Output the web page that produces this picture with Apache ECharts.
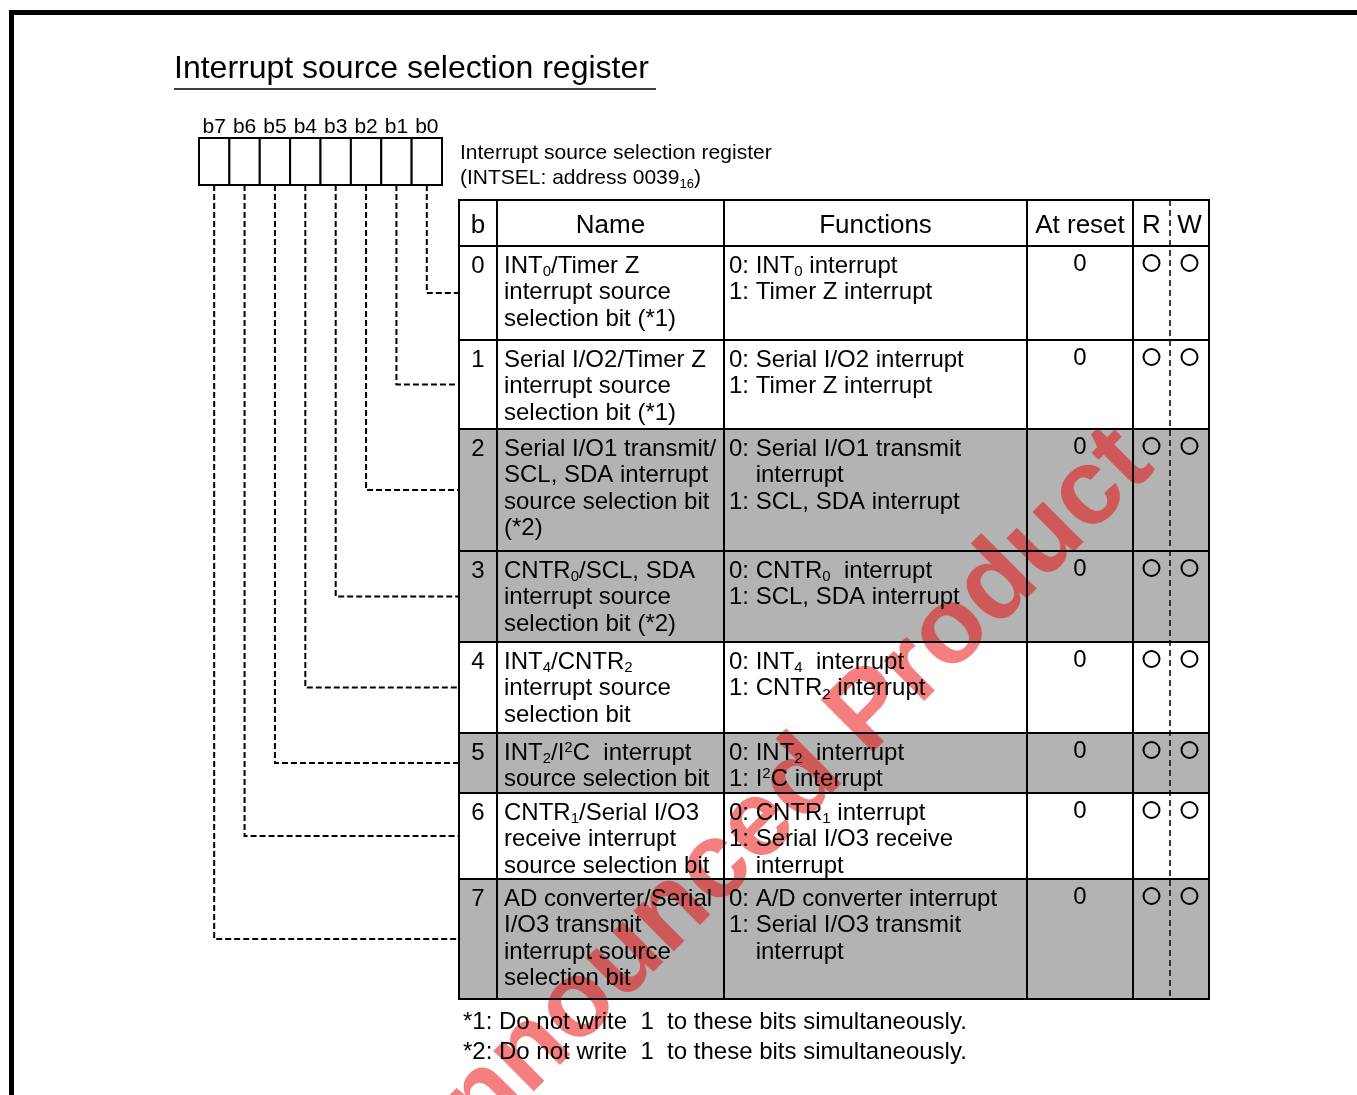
<!DOCTYPE html>
<html><head><meta charset="utf-8">
<script src="https://cdn.jsdelivr.net/npm/echarts@6/dist/echarts.min.js"></script>
<style>html,body{margin:0;padding:0;background:#fff}#c{width:1357px;height:1095px}</style>
</head><body><div id="c"></div>
<script>
// ---------------- DATA ----------------
const title = 'Interrupt source selection register';
const registerLines = 'Interrupt source selection register\n(INTSEL: address 0039{sub|16})';
const bitLabels = ['b7','b6','b5','b4','b3','b2','b1','b0'];
const headers = ['b','Name','Functions','At reset','R','W'];
const bitNumbers = ['0','1','2','3','4','5','6','7'];
const names = [
  'INT{sub|0}/Timer Z\ninterrupt source\nselection bit (*1)',
  'Serial I/O2/Timer Z\ninterrupt source\nselection bit (*1)',
  'Serial I/O1 transmit/\nSCL, SDA interrupt\nsource selection bit\n(*2)',
  'CNTR{sub|0}/SCL, SDA\ninterrupt source\nselection bit (*2)',
  'INT{sub|4}/CNTR{sub|2}\ninterrupt source\nselection bit',
  'INT{sub|2}/I{sup|2}C  interrupt\nsource selection bit',
  'CNTR{sub|1}/Serial I/O3\nreceive interrupt\nsource selection bit',
  'AD converter/Serial\nI/O3 transmit\ninterrupt source\nselection bit'
];
const functions = [
  '0: INT{sub|0} interrupt\n1: Timer Z interrupt',
  '0: Serial I/O2 interrupt\n1: Timer Z interrupt',
  '0: Serial I/O1 transmit\n    interrupt\n1: SCL, SDA interrupt',
  '0: CNTR{sub|0}  interrupt\n1: SCL, SDA interrupt',
  '0: INT{sub|4}  interrupt\n1: CNTR{sub|2} interrupt',
  '0: INT{sub|2}  interrupt\n1: I{sup|2}C interrupt',
  '0: CNTR{sub|1} interrupt\n1: Serial I/O3 receive\n    interrupt',
  '0: A/D converter interrupt\n1: Serial I/O3 transmit\n    interrupt'
];
const resetValues = ['0','0','0','0','0','0','0','0'];
const readable = [true,true,true,true,true,true,true,true];
const writable = [true,true,true,true,true,true,true,true];
const shaded = [false,false,true,true,false,true,false,true];
const notes = [
  '*1: Do not write  1  to these bits simultaneously.',
  '*2: Do not write  1  to these bits simultaneously.'
];
const watermark = 'Unannounced Product';

// ---------------- LAYOUT / STYLE ----------------
const FONT = '"Liberation Sans", Arial, Helvetica, sans-serif';
const GRAY = '#b3b3b3';
const L = {
  W: 1357, H: 1095,
  titleX: 174, titleY: 69, underlineY: 89, underlineX2: 656,
  reg: {x0: 199, x1: 442, y0: 138, y1: 185}, bitLabelY: 127.5,
  regTextX: 460, regTextTop: 140.5,
  colEdges: [459, 497, 724, 1027, 1133, 1209], rwSplit: 1170,
  headerTop: 200, headerTextY: 226,
  rowEdges: [246, 340, 429, 551, 642, 733, 793, 879, 999],
  lineH: 26.5, textDy: 7, padX: 7,
  notesX: 463, notesY: [1022, 1052],
  wm: {x: 726, y: 857, angle: 45, size: 108}
};
const RICH = {
  sub: {fontSize: 15, fontFamily: FONT, fill: '#000', verticalAlign: 'bottom', lineHeight: 20},
  sup: {fontSize: 15, fontFamily: FONT, fill: '#000', verticalAlign: 'top', lineHeight: 18}
};
const RICH_SMALL = {
  sub: {fontSize: 13, fontFamily: FONT, fill: '#000', verticalAlign: 'bottom', lineHeight: 18}
};

function txt(p, s, opt) {
  opt = opt || {};
  return {
    type: 'text', x: p[0], y: p[1],
    style: {
      text: s, fill: '#000', fontSize: opt.size || 24, fontFamily: FONT,
      align: opt.align || 'left', verticalAlign: opt.valign || 'top',
      lineHeight: opt.lineH || L.lineH, rich: opt.rich || RICH
    }
  };
}
function line(a, b, w, dash) {
  return {type: 'line', shape: {x1: a[0], y1: a[1], x2: b[0], y2: b[1]},
    style: {stroke: '#000', lineWidth: w || 2, lineDash: dash || null}};
}

// row backgrounds
function rowFillItem(params, api) {
  const i = api.value(0);
  const C = L.colEdges;
  const a = api.coord([C[0], L.rowEdges[i]]), b = api.coord([C[5], L.rowEdges[i + 1]]);
  return {type: 'rect', shape: {x: a[0], y: a[1], width: b[0] - a[0], height: b[1] - a[1]},
    style: {fill: shaded[i] ? GRAY : '#fff'}};
}

// row texts + R/W marks
function rowTextItem(params, api) {
  const i = api.value(0);
  const C = L.colEdges, top = L.rowEdges[i];
  const P = (x, y) => api.coord([x, y]);
  const ch = [];
  ch.push(txt(P((C[0] + C[1]) / 2, top + L.textDy), bitNumbers[i], {align: 'center'}));
  ch.push(txt(P(C[1] + L.padX, top + L.textDy), names[i]));
  ch.push(txt(P(C[2] + L.padX - 2, top + L.textDy), functions[i]));
  ch.push(txt(P((C[3] + C[4]) / 2, top + L.textDy - 2), resetValues[i], {align: 'center'}));
  const cy = P(0, top + 17)[1];
  if (readable[i]) { const c = P((C[4] + L.rwSplit) / 2, 0)[0];
    ch.push({type: 'circle', shape: {cx: c, cy: cy, r: 8}, style: {fill: 'none', stroke: '#000', lineWidth: 2}}); }
  if (writable[i]) { const c = P((L.rwSplit + C[5]) / 2, 0)[0];
    ch.push({type: 'circle', shape: {cx: c, cy: cy, r: 8}, style: {fill: 'none', stroke: '#000', lineWidth: 2}}); }
  return {type: 'group', children: ch};
}

// header cells
function headerItem(params, api) {
  const k = api.value(0);
  const edges = [L.colEdges[0], L.colEdges[1], L.colEdges[2], L.colEdges[3], L.colEdges[4], L.rwSplit, L.colEdges[5]];
  const cx = (edges[k] + edges[k + 1]) / 2;
  const p = api.coord([cx, L.headerTextY]);
  return txt(p, headers[k], {align: 'center', valign: 'middle', size: 26, lineH: 30});
}

// table rules
function rulesItem(params, api) {
  const C = L.colEdges, R = L.rowEdges;
  const P = (x, y) => api.coord([x, y]);
  const ch = [];
  const ys = [L.headerTop].concat(R);
  ys.forEach(y => ch.push(line(P(C[0] - 1, y), P(C[5] + 1, y), 2)));
  C.forEach(x => ch.push(line(P(x, L.headerTop), P(x, R[R.length - 1]), 2)));
  ch.push(line(P(L.rwSplit, L.headerTop), P(L.rwSplit, R[R.length - 1]), 1.5, [6, 4]));
  return {type: 'group', children: ch};
}

// register boxes and bit labels
function regItem(params, api) {
  const k = api.value(0);
  const w = (L.reg.x1 - L.reg.x0) / bitLabels.length;
  const x0 = L.reg.x0 + k * w;
  const a = api.coord([x0, L.reg.y0]), b = api.coord([x0 + w, L.reg.y1]);
  return {type: 'group', children: [
    {type: 'rect', shape: {x: a[0], y: a[1], width: b[0] - a[0], height: b[1] - a[1]},
      style: {fill: '#fff', stroke: '#000', lineWidth: 2}},
    txt(api.coord([x0 + w / 2, L.bitLabelY]), bitLabels[k], {align: 'center', valign: 'middle', size: 21, lineH: 24})
  ]};
}

// dashed leaders from each bit box to its row
function leaderItem(params, api) {
  const bit = api.value(0);
  const w = (L.reg.x1 - L.reg.x0) / bitLabels.length;
  const x = L.reg.x0 + (bitLabels.length - 1 - bit + 0.5) * w;
  const y = (L.rowEdges[bit] + L.rowEdges[bit + 1]) / 2;
  const pts = [[x, L.reg.y1], [x, y], [L.colEdges[0], y]].map(p => api.coord(p));
  return {type: 'polyline', shape: {points: pts},
    style: {fill: 'none', stroke: '#000', lineWidth: 2, lineDash: [6, 3]}};
}

const chart = echarts.init(document.getElementById('c'), null, {renderer: 'canvas'});
chart.setOption({
  animation: false,
  backgroundColor: '#fff',
  grid: {left: 0, top: 0, width: L.W, height: L.H},
  xAxis: {type: 'value', min: 0, max: L.W, show: false},
  yAxis: {type: 'value', min: 0, max: L.H, inverse: true, show: false},
  graphic: [
    {type: 'rect', z: 5, shape: {x: 9, y: 10, width: L.W, height: 5}, style: {fill: '#000'}},
    {type: 'rect', z: 5, shape: {x: 9, y: 10, width: 5, height: L.H}, style: {fill: '#000'}},
    {type: 'text', z: 3, x: L.titleX, y: L.titleY, style: {text: title, fontSize: 32, fontFamily: FONT, fill: '#000', verticalAlign: 'middle'}},
    {type: 'line', z: 3, shape: {x1: L.titleX, y1: L.underlineY, x2: L.underlineX2, y2: L.underlineY}, style: {stroke: '#000', lineWidth: 1.5}},
    {type: 'text', z: 3, x: L.regTextX, y: L.regTextTop, style: {text: registerLines, fontSize: 21, fontFamily: FONT, fill: '#000', lineHeight: 25, verticalAlign: 'top', rich: RICH_SMALL}},
    {type: 'text', z: 3, x: L.notesX, y: L.notesY[0], style: {text: notes[0], fontSize: 24, fontFamily: FONT, fill: '#000', verticalAlign: 'middle'}},
    {type: 'text', z: 3, x: L.notesX, y: L.notesY[1], style: {text: notes[1], fontSize: 24, fontFamily: FONT, fill: '#000', verticalAlign: 'middle'}},
    {type: 'text', z: 1.5, x: L.wm.x, y: L.wm.y, rotation: L.wm.angle * Math.PI / 180,
      style: {text: watermark, fontSize: L.wm.size, fontWeight: 'bold', fontFamily: FONT, fill: 'rgba(235,0,0,0.5)', align: 'center', verticalAlign: 'middle'}}
  ],
  series: [
    {type: 'custom', name: 'rowFills', z: 1, clip: false, data: bitNumbers.map((b, i) => [i]), renderItem: rowFillItem},
    {type: 'custom', name: 'rowTexts', z: 3, clip: false, data: bitNumbers.map((b, i) => [i]), renderItem: rowTextItem},
    {type: 'custom', name: 'header', z: 3, clip: false, data: headers.map((h, i) => [i]), renderItem: headerItem},
    {type: 'custom', name: 'rules', z: 4, clip: false, data: [[0]], renderItem: rulesItem},
    {type: 'custom', name: 'leaders', z: 2, clip: false, data: bitNumbers.map((b, i) => [i]), renderItem: leaderItem},
    {type: 'custom', name: 'register', z: 4, clip: false, data: bitLabels.map((b, i) => [i]), renderItem: regItem}
  ]
});
</script>
</body></html>
